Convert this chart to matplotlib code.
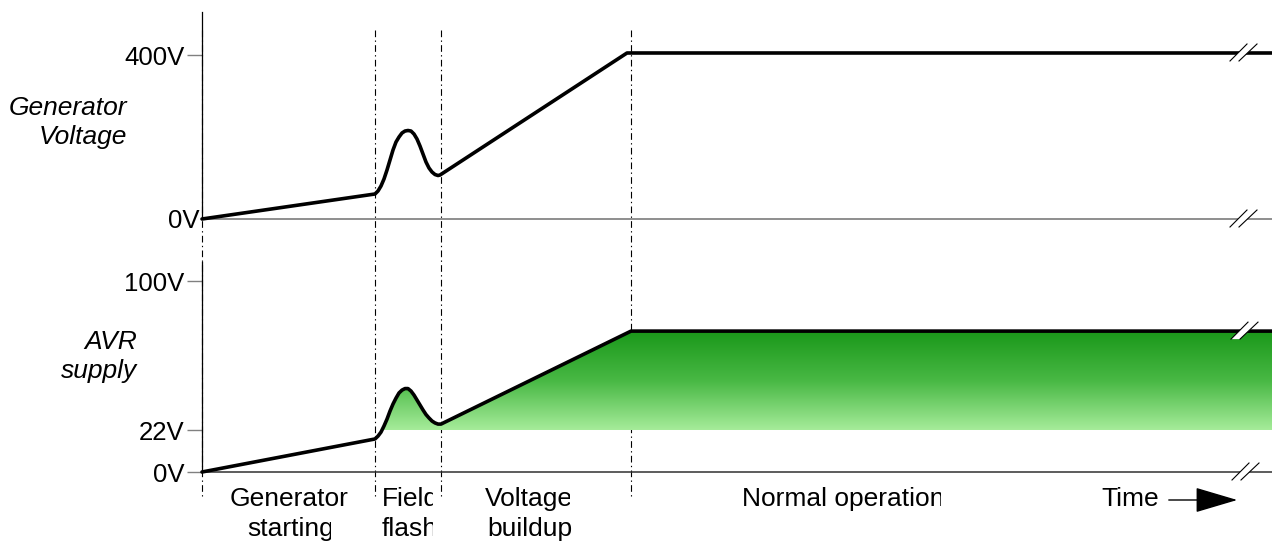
import numpy as np
import matplotlib
matplotlib.use("Agg")
import matplotlib.pyplot as plt
import matplotlib.transforms as mtransforms
from matplotlib.colors import LinearSegmentedColormap

plt.rcParams['font.family'] = ['Liberation Sans', 'DejaVu Sans']

W, H = 1272, 542

# time axis (arbitrary units, 0 = generator start)
t_end = 21.4
phase_edges = [0.0, 3.46, 4.78, 8.58]

# generator voltage (V)
gen_t = [0.0, 3.46, 3.52, 3.58, 3.64, 3.70, 3.76, 3.82, 3.88, 3.94, 4.00,
         4.06, 4.12, 4.18, 4.24, 4.30, 4.36, 4.42, 4.48, 4.54, 4.60, 4.66,
         4.72, 4.76, 8.50, 21.4]
gen_v = [0, 61.0, 68.3, 80.5, 97.6, 119.5, 143.9, 168.3, 187.8, 200.0, 209.8,
         214.6, 215.9, 214.6, 207.3, 195.1, 178.0, 158.5, 139.0, 124.4, 114.6,
         108.5, 106.1, 107.3, 405, 405]

# AVR supply voltage (V)
avr_t = [0.0, 3.46, 3.52, 3.58, 3.64, 3.70, 3.76, 3.82, 3.88, 3.94, 4.00,
         4.06, 4.12, 4.18, 4.24, 4.30, 4.36, 4.42, 4.48, 4.54, 4.60, 4.66,
         4.72, 4.78, 8.58, 21.4]
avr_v = [0, 17.3, 18.8, 20.9, 24.1, 27.7, 31.9, 35.6, 38.7, 41.4, 42.9,
         43.7, 43.7, 42.4, 40.3, 37.7, 35.1, 32.5, 30.1, 28.3, 26.7, 25.7,
         25.1, 25.1, 73.8, 73.8]
avr_min = 22

gen_ticks = [400]
gen_ticklabels = ['400V']
avr_ticks = [0, 22, 100]
avr_ticklabels = ['0V', '22V', '100V']

phase_labels = [("Generator", 230, 506, None), ("starting", 247, 536, 331),
                ("Field", 382, 506, 433), ("flash", 382, 536, 433),
                ("Voltage", 485, 506, 570), ("buildup", 487, 536, None),
                ("Normal operation", 742, 506, 941), ("Time", 1101, 506, None)]


def fx(x):
    return x / W


def fy(y):
    return 1 - y / H


fig = plt.figure(figsize=(W / 100, H / 100), dpi=100)
ax_gen = fig.add_axes([fx(202), fy(219), (W - 202) / W, (219 - 12) / H])
ax_avr = fig.add_axes([fx(202), fy(472), (W - 202) / W, (472 - 262) / H])

for ax, base_col in [(ax_gen, '#707070'), (ax_avr, '#303030')]:
    ax.patch.set_alpha(0)
    ax.spines['top'].set_visible(False)
    ax.spines['right'].set_visible(False)
    ax.spines['left'].set_color('black')
    ax.spines['left'].set_linewidth(0.9)
    ax.spines['bottom'].set_color(base_col)
    ax.spines['bottom'].set_linewidth(1.1)
    ax.set_xticks([])
    ax.tick_params(axis='y', length=11, width=1, color='#808080', pad=1.5,
                   labelsize=18.5)

ax_gen.set_yticks(gen_ticks, gen_ticklabels)
ax_avr.set_yticks(avr_ticks, avr_ticklabels)
ax_gen.text(-0.05, 0, '0V', ha='right', va='center_baseline', fontsize=18.5)

# curves
ax_gen.plot(gen_t, gen_v, color='black', lw=2.6, solid_joinstyle='round',
            solid_capstyle='round', clip_on=False, zorder=5)
ax_avr.plot(avr_t, avr_v, color='black', lw=2.6, solid_joinstyle='round',
            solid_capstyle='round', clip_on=False, zorder=5)

# green gradient area above 22V
avr_t_arr = np.array(avr_t)
avr_v_arr = np.array(avr_v)
poly = ax_avr.fill_between(avr_t_arr, avr_v_arr, avr_min, where=avr_v_arr >= avr_min,
                           interpolate=True, color='none', lw=0)
cmap = LinearSegmentedColormap.from_list('grn', ['#a6ec9a', '#48b844', '#1a981a'])
img = ax_avr.imshow(np.linspace(0, 1, 256).reshape(-1, 1), cmap=cmap,
                    extent=(0, t_end, avr_min, max(avr_v)), origin='lower',
                    aspect='auto', zorder=2)
img.set_clip_path(poly.get_paths()[0], transform=ax_avr.transData)

for ax, top in [(ax_gen, 505), (ax_avr, 110)]:
    ax.set_xlim(0, t_end)
    ax.set_ylim(0, top)

# phase boundaries
vtrans = mtransforms.blended_transform_factory(ax_avr.transData, fig.transFigure)
for t in phase_edges:
    ax_avr.plot([t, t], [fy(30), fy(497)], transform=vtrans, color='black',
                lw=0.8, ls=(0, (6, 3, 1.2, 3)), clip_on=False, zorder=1)


# axis break marks
def draw_break(ax, t, v):
    cx, cy = ax.transData.transform((t, v))
    l1 = np.array([[-13, -8], [4, 9]]) + [cx, cy]
    l2 = np.array([[-4, -8], [14, 9]]) + [cx, cy]
    quad = np.vstack([l1, l2[::-1]])
    fig.patches.append(plt.Polygon(quad, closed=True, facecolor='white',
                                   edgecolor='none', transform=None, zorder=6))
    for seg in (l1, l2):
        fig.lines.append(plt.Line2D(seg[:, 0], seg[:, 1], color='black',
                                    lw=0.8, transform=None, zorder=7))


draw_break(ax_gen, 20.82, gen_v[-1])
draw_break(ax_gen, 20.82, 0)
draw_break(ax_avr, 20.84, avr_v[-1])
draw_break(ax_avr, 20.86, 0)

# axis titles
for txt, y in [("Generator", 115), ("Voltage", 144)]:
    fig.text(fx(127), fy(y), txt, ha='right', va='baseline', fontsize=19,
             style='italic')
for txt, y in [("AVR", 349), ("supply", 378)]:
    fig.text(fx(137), fy(y), txt, ha='right', va='baseline', fontsize=19,
             style='italic')

# phase labels
for txt, x, y, clip_x in phase_labels:
    tx = fig.text(fx(x), fy(y), txt, ha='left', va='baseline', fontsize=19)
    if clip_x is not None:
        tx.set_clip_box(mtransforms.Bbox.from_extents(0, 0, clip_x, H))
        tx.set_clip_on(True)

# time arrow
fig.patches.append(matplotlib.patches.FancyArrowPatch(
    (fx(1166), fy(500)), (fx(1240), fy(500)), transform=fig.transFigure,
    arrowstyle='-|>,head_length=1.35,head_width=0.4', mutation_scale=20,
    lw=1, color='black'))

fig.savefig('out.png', dpi=100)
